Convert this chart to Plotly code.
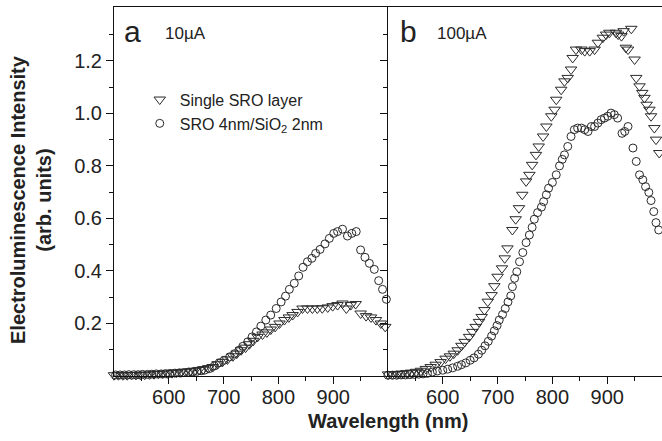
import plotly.graph_objects as go

# ---------------- data ----------------
# Panel a (10 uA)
wl_a_tri = [500, 508, 516, 524, 532, 540, 548, 556, 565, 573, 581, 589, 597, 606, 614, 622, 630, 639, 647, 655,
            663, 672, 680, 689, 698, 707, 717, 724, 732, 740, 747, 754, 762, 771, 779, 786, 794, 802, 811, 819,
            826, 835, 844, 853, 862, 871, 880, 890, 899, 908, 917, 924, 932, 941, 950, 960, 969, 978, 987, 995, 1001]
el_a_tri = [0.003, 0.003, 0.003, 0.003, 0.004, 0.004, 0.005, 0.005, 0.006, 0.007, 0.008, 0.009, 0.010, 0.011, 0.013,
            0.014, 0.016, 0.018, 0.020, 0.023, 0.026, 0.030, 0.034, 0.045, 0.054, 0.063, 0.075, 0.085, 0.098, 0.108,
            0.121, 0.134, 0.149, 0.158, 0.166, 0.177, 0.187, 0.200, 0.213, 0.223, 0.232, 0.244, 0.257, 0.257, 0.257,
            0.257, 0.258, 0.261, 0.266, 0.270, 0.276, 0.257, 0.270, 0.274, 0.238, 0.228, 0.223, 0.213, 0.200, 0.187,
            0.162]

wl_a_circ = [503, 511, 519, 527, 536, 544, 552, 561, 569, 577, 586, 594, 602, 611, 619, 627, 636, 644, 652, 659,
             665, 674, 683, 692, 701, 711, 720, 728, 735, 744, 752, 760, 768, 777, 786, 796, 805, 813, 820, 829,
             837, 845, 853, 861, 868, 876, 885, 893, 901, 908, 917, 926, 934, 942, 950, 958, 966, 975, 983, 990,
             997, 1001]
el_a_circ = [0.004, 0.004, 0.004, 0.005, 0.005, 0.005, 0.006, 0.006, 0.007, 0.008, 0.008, 0.009, 0.010, 0.011, 0.012,
             0.013, 0.015, 0.016, 0.018, 0.020, 0.022, 0.028, 0.038, 0.050, 0.060, 0.073, 0.085, 0.098, 0.113, 0.130,
             0.149, 0.168, 0.190, 0.213, 0.232, 0.257, 0.282, 0.304, 0.330, 0.353, 0.381, 0.414, 0.435, 0.448, 0.467,
             0.482, 0.503, 0.524, 0.543, 0.550, 0.559, 0.533, 0.543, 0.550, 0.480, 0.452, 0.429, 0.406, 0.363, 0.330,
             0.292, 0.009]

# Panel b (100 uA)
wl_b_tri = [500, 508, 517, 525, 534, 542, 551, 560, 569, 578, 587, 596, 605, 613, 620, 627, 634, 640, 648, 654,
            660, 666, 671, 676, 682, 689, 694, 700, 708, 713, 718, 727, 733, 739, 745, 752, 758, 763, 770, 775,
            783, 789, 798, 804, 807, 816, 822, 828, 834, 837, 843, 853, 859, 868, 877, 883, 892, 898, 904, 916,
            920, 926, 930, 934, 938, 944, 950, 953, 959, 964, 968, 972, 977, 980, 986, 989, 995]
el_b_tri = [0.006, 0.007, 0.008, 0.009, 0.011, 0.013, 0.016, 0.020, 0.027, 0.034, 0.043, 0.053, 0.066, 0.075, 0.085,
            0.098, 0.115, 0.130, 0.149, 0.168, 0.187, 0.206, 0.225, 0.251, 0.283, 0.308, 0.342, 0.378, 0.410, 0.448,
            0.486, 0.556, 0.597, 0.639, 0.690, 0.741, 0.766, 0.804, 0.842, 0.874, 0.912, 0.950, 0.989, 1.014, 1.052,
            1.090, 1.122, 1.135, 1.167, 1.211, 1.243, 1.243, 1.237, 1.237, 1.243, 1.269, 1.288, 1.300, 1.307, 1.307,
            1.300, 1.294, 1.313, 1.250, 1.243, 1.322, 1.205, 1.135, 1.103, 1.078, 1.059, 1.033, 1.014, 0.989, 0.944,
            0.900, 0.849]

wl_b_circ = [500, 508, 516, 524, 532, 540, 548, 556, 564, 572, 581, 590, 600, 609, 618, 627, 634, 642, 650, 657,
             665, 671, 677, 683, 689, 694, 699, 703, 709, 714, 719, 724, 727, 731, 735, 740, 746, 752, 758, 763,
             767, 773, 780, 784, 789, 793, 800, 807, 813, 818, 822, 828, 834, 840, 846, 853, 859, 865, 871, 877,
             883, 889, 895, 901, 907, 913, 919, 927, 932, 938, 947, 953, 959, 965, 970, 976, 980, 985, 989, 994]
el_b_circ = [0.003, 0.003, 0.003, 0.004, 0.004, 0.005, 0.006, 0.007, 0.008, 0.010, 0.015, 0.019, 0.022, 0.026, 0.031,
             0.037, 0.043, 0.050, 0.060, 0.069, 0.083, 0.098, 0.115, 0.132, 0.152, 0.172, 0.192, 0.213, 0.234, 0.257,
             0.282, 0.305, 0.340, 0.372, 0.397, 0.435, 0.470, 0.508, 0.537, 0.566, 0.597, 0.622, 0.643, 0.664, 0.690,
             0.715, 0.737, 0.766, 0.800, 0.825, 0.842, 0.874, 0.912, 0.938, 0.944, 0.944, 0.938, 0.931, 0.950, 0.950,
             0.963, 0.976, 0.982, 0.989, 1.001, 0.995, 0.982, 0.924, 0.931, 0.950, 0.868, 0.817, 0.766, 0.747, 0.721,
             0.699, 0.668, 0.626, 0.584, 0.556]

x_tick_vals = [600, 700, 800, 900]
x_tick_text = ["600", "700", "800", "900"]
x_minor_vals = [550, 650, 750, 850, 950]
y_tick_vals = [0.2, 0.4, 0.6, 0.8, 1.0, 1.2]
y_tick_text = ["0.2", "0.4", "0.6", "0.8", "1.0", "1.2"]
y_minor_vals = [0.1, 0.3, 0.5, 0.7, 0.9, 1.1, 1.3]

name_tri = "Single SRO layer"
name_circ = "SRO 4nm/SiO<sub>2</sub> 2nm"

# ---------------- figure ----------------
FONT = "Liberation Sans, Arial, Helvetica, sans-serif"
MK_COLOR = "#2a2a2a"

def tri_marker():
    return dict(symbol="triangle-down-open", size=10, color=MK_COLOR, line=dict(width=1, color=MK_COLOR))

def circ_marker():
    return dict(symbol="circle-open", size=8, color=MK_COLOR, line=dict(width=1, color=MK_COLOR))

fig = go.Figure()
fig.add_trace(go.Scatter(x=wl_a_tri, y=el_a_tri, mode="markers", marker=tri_marker(), name=name_tri,
                         xaxis="x", yaxis="y", cliponaxis=False))
fig.add_trace(go.Scatter(x=wl_a_circ, y=el_a_circ, mode="markers", marker=circ_marker(), name=name_circ,
                         xaxis="x", yaxis="y", cliponaxis=False))
fig.add_trace(go.Scatter(x=wl_b_tri, y=el_b_tri, mode="markers", marker=tri_marker(), name=name_tri,
                         xaxis="x2", yaxis="y2", cliponaxis=False, showlegend=False))
fig.add_trace(go.Scatter(x=wl_b_circ, y=el_b_circ, mode="markers", marker=circ_marker(), name=name_circ,
                         xaxis="x2", yaxis="y2", cliponaxis=False, showlegend=False))

axis_common = dict(showgrid=False, zeroline=False, showline=True, linecolor="#111", linewidth=1,
                   ticks="outside", tickcolor="#111", tickwidth=1, ticklen=7,
                   tickfont=dict(family=FONT, size=20, color="#222"))

xa = dict(axis_common, range=[500, 1000], tickvals=x_tick_vals, ticktext=x_tick_text, mirror=True,
          ticklabelstandoff=-4,
          minor=dict(tickvals=x_minor_vals, ticklen=4, ticks="outside", tickcolor="#111"))
ya = dict(axis_common, range=[0, 1.405], tickvals=y_tick_vals, ticktext=y_tick_text,
          minor=dict(tickvals=y_minor_vals, ticklen=4, ticks="outside", tickcolor="#111"))

fig.update_layout(
    width=662, height=441,
    margin=dict(l=114, r=0, t=7, b=65),
    paper_bgcolor="white", plot_bgcolor="white",
    font=dict(family=FONT, color="#222"),
    xaxis=dict(xa, domain=[0, 0.5], anchor="y"),
    yaxis=dict(ya, anchor="x"),
    xaxis2=dict(xa, domain=[0.5, 1.0], anchor="y2"),
    yaxis2=dict(ya, anchor="x2", showticklabels=False),
    showlegend=True,
    legend=dict(x=0.047, y=0.795, xanchor="left", yanchor="top", bgcolor="rgba(0,0,0,0)",
                font=dict(family=FONT, size=16, color="#222"), tracegroupgap=0, itemsizing="trace"),
)

def ann(text, px, py, size, bold=False, **kw):
    fig.add_annotation(text=("<b>%s</b>" % text) if bold else text,
                       x=(px - 114) / 548, y=(376 - py) / 369, xref="paper", yref="paper",
                       xanchor="center", yanchor="middle",
                       showarrow=False, font=dict(family=FONT, size=size, color="#222"), **kw)

ann("a", 132, 31, 30)
ann("10µA", 185, 34, 17)
ann("b", 408, 31, 30)
ann("100µA", 462, 34, 17)
ann("Wavelength (nm)", 388, 421, 20, bold=True)
ann("Electroluminescence Intensity<br>(arb. units)", 31, 200, 20, bold=True, textangle=-90)

fig.write_html("out.html", config={"displayModeBar": False},
               post_script="document.body.style.margin='0';")
